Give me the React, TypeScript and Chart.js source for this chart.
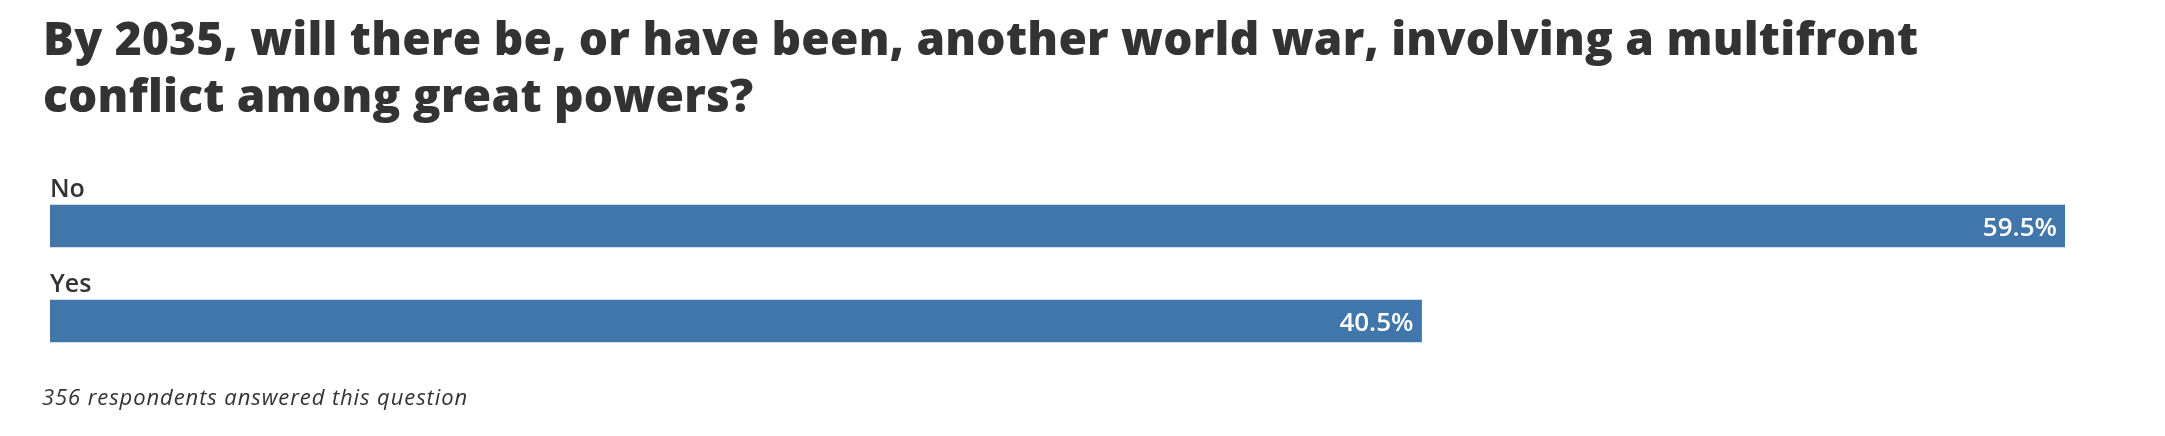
import React, { useEffect, useRef } from "react";
import { Chart, registerables } from "chart.js";

Chart.register(...registerables);

const categories: string[] = ["No", "Yes"];
const values: number[] = [59.5, 40.5];
const valueLabels: string[] = ["59.5%", "40.5%"];
const titleLines: string[] = [
  "By 2035, will there be, or have been, another world war, involving a multifront",
  "conflict among great powers?",
];
const footnote = "356 respondents answered this question";

const BAR_COLOR = "#4176aa";
const TEXT_COLOR = "#333333";

function spacingFor(ctx: CanvasRenderingContext2D, text: string, targetWidth: number) {
  (ctx as any).letterSpacing = "0px";
  const w = ctx.measureText(text).width;
  return (targetWidth - w) / Math.max(1, text.length - 1);
}

const textPlugin = {
  id: "customText",
  afterDraw(chart: any) {
    const ctx = chart.ctx as CanvasRenderingContext2D;
    ctx.save();
    ctx.fillStyle = TEXT_COLOR;
    ctx.textAlign = "left";
    ctx.textBaseline = "alphabetic";
    ctx.font = "800 46px 'Open Sans'";
    const ls = spacingFor(ctx, titleLines[0], 1875);
    (ctx as any).letterSpacing = ls.toFixed(2) + "px";
    ctx.fillText(titleLines[0], 43, 55);
    ctx.fillText(titleLines[1], 43, 112);
    (ctx as any).letterSpacing = "0px";

    const meta = chart.getDatasetMeta(0);
    const xScale = chart.scales.x;
    meta.data.forEach((bar: any, i: number) => {
      const props = bar.getProps(["x", "y", "height", "base"], true);
      const top = props.y - props.height / 2;
      ctx.fillStyle = TEXT_COLOR;
      ctx.textAlign = "left";
      ctx.font = "600 25px 'Open Sans'";
      ctx.fillText(categories[i], xScale.left, top - 8);
      ctx.fillStyle = "#ffffff";
      ctx.textAlign = "right";
      ctx.font = "600 26px 'Open Sans'";
      ctx.fillText(valueLabels[i], props.x - 8, props.y + 10);
    });

    ctx.fillStyle = TEXT_COLOR;
    ctx.textAlign = "left";
    ctx.font = "italic 22px 'Open Sans'";
    const fs = spacingFor(ctx, footnote, 425);
    (ctx as any).letterSpacing = fs.toFixed(2) + "px";
    ctx.fillText(footnote, 42, 405);
    (ctx as any).letterSpacing = "0px";
    ctx.restore();
  },
};

export default function App() {
  const ref = useRef<HTMLCanvasElement | null>(null);
  useEffect(() => {
    if (!ref.current) return;
    const chart = new Chart(ref.current, {
      type: "bar",
      data: {
        labels: categories,
        datasets: [
          {
            data: values,
            backgroundColor: BAR_COLOR,
            borderWidth: 0,
            barThickness: 42,
          },
        ],
      },
      options: {
        indexAxis: "y",
        responsive: false,
        animation: false,
        devicePixelRatio: 1,
        layout: { padding: { left: 50, right: 100, top: 178.5, bottom: 67.5 } },
        plugins: {
          legend: { display: false },
          tooltip: { enabled: false },
          title: { display: false },
        },
        scales: {
          x: { display: false, min: 0, max: Math.max(...values) },
          y: { display: false, offset: true },
        },
      },
      plugins: [textPlugin],
    });
    return () => chart.destroy();
  }, []);
  return (
    <div style={{ position: "absolute", left: 0, top: 0, width: 2165, height: 436, background: "#fff" }}>
      <canvas ref={ref} width={2165} height={436} />
    </div>
  );
}
